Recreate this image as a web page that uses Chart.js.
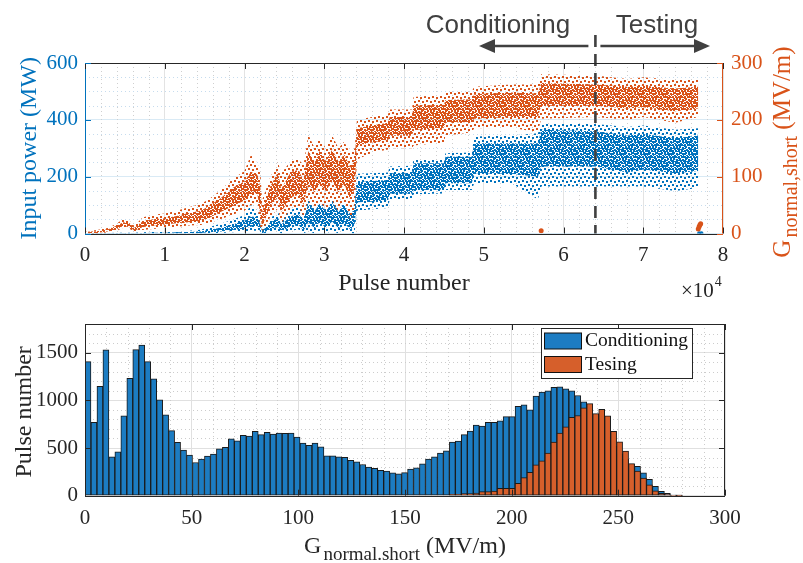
<!DOCTYPE html>
<html>
<head>
<meta charset="utf-8">
<script src="https://cdn.jsdelivr.net/npm/chart.js@4.4.0/dist/chart.umd.min.js"></script>
<style>
  html, body { margin: 0; padding: 0; background: #fff; }
  #wrap { position: relative; width: 803px; height: 563px; }
  #top { position: absolute; left: 0; top: 0; width: 803px; height: 300px; }
  #bottom { position: absolute; left: 0; top: 300px; width: 803px; height: 263px; }
</style>
</head>
<body>
<div id="wrap">
  <canvas id="top" width="803" height="300"></canvas>
  <canvas id="bottom" width="803" height="263"></canvas>
</div>
<script>
// ---- top panel: pulse positions where the two point clouds were read ----
const pulses = [0, 1500, 3000, 4000, 4800, 5600, 6200, 7200, 8500, 10000,
  11500, 13000, 14500, 15500, 17000, 18500, 20000, 20800, 21600, 22000,
  22200, 23200, 24200, 24600, 25800, 26800, 27400, 28000, 28800, 29400,
  30200, 31000, 31800, 32500, 33300, 33800, 34100, 36000, 38000, 38200,
  41000, 41200, 45000, 45200, 48500, 48800, 53500, 56800, 57200, 64000,
  68000, 70000, 74000, 76900];

// G normal,short cloud (MV/m): outer edges and dense core
const gLow      = [0, 0, 2, 5, 10, 8, 3, 6, 8, 10, 12, 14, 15, 18, 25, 33, 40, 50, 52, 10,
  4, 28, 44, 18, 44, 48, 30, 58, 42, 58, 42, 58, 38, 56, 22, 38, 130, 142, 148, 150,
  150, 155, 160, 172, 178, 185, 186, 178, 202, 205, 200, 205, 195, 205];
const gCoreLow  = [1, 1, 4, 8, 13, 11, 5, 11, 14, 16, 18, 20, 22, 27, 38, 48, 58, 68, 72, 30,
  12, 48, 64, 38, 64, 68, 50, 88, 72, 88, 75, 92, 72, 88, 58, 80, 155, 160, 165, 172,
  172, 182, 186, 195, 196, 202, 205, 205, 225, 225, 220, 222, 215, 220];
const gCoreHigh = [3, 4, 8, 14, 20, 18, 10, 21, 25, 27, 31, 36, 40, 48, 62, 80, 92, 108, 104, 80,
  38, 82, 108, 78, 108, 112, 92, 145, 125, 145, 128, 148, 126, 140, 115, 130, 185, 190, 195, 205,
  205, 225, 226, 235, 236, 245, 248, 246, 265, 262, 258, 260, 255, 258];
const gHigh     = [4, 6, 10, 18, 25, 22, 13, 28, 33, 35, 40, 46, 52, 60, 76, 96, 110, 138, 124, 108,
  58, 98, 126, 105, 128, 130, 120, 174, 150, 168, 150, 172, 150, 162, 140, 150, 200, 205, 210, 218,
  218, 240, 244, 250, 250, 258, 262, 262, 280, 278, 272, 275, 270, 270];

// input power cloud (MW)
const pLow      = [0, 0, 0, 0, 0, 0, 0, 0, 0, 0, 0, 0, 0, 1, 2, 4, 8, 10, 10, 0,
  0, 4, 10, 0, 10, 14, 0, 10, 0, 10, 0, 10, 0, 10, 0, 0, 80, 85, 90, 118,
  118, 138, 141, 153, 153, 177, 177, 120, 165, 165, 165, 165, 150, 160];
const pCoreLow  = [0, 0, 0, 0, 0, 0, 0, 0, 1, 1, 1, 2, 2, 4, 7, 12, 18, 24, 28, 5,
  1, 14, 24, 8, 24, 30, 10, 40, 18, 40, 20, 42, 18, 38, 12, 30, 110, 112, 118, 141,
  141, 153, 155, 177, 177, 212, 210, 200, 236, 236, 215, 225, 212, 220];
const pCoreHigh = [1, 1, 1, 1, 2, 2, 1, 2, 3, 3, 4, 5, 7, 12, 20, 32, 45, 60, 58, 30,
  8, 38, 55, 32, 60, 68, 48, 105, 78, 105, 78, 108, 76, 100, 66, 90, 180, 185, 188, 212,
  212, 247, 247, 270, 270, 318, 318, 318, 365, 360, 345, 350, 335, 345];
const pHigh     = [2, 2, 2, 3, 3, 3, 3, 4, 5, 6, 8, 10, 13, 22, 34, 48, 65, 100, 82, 58,
  18, 54, 75, 52, 84, 92, 80, 150, 118, 145, 120, 150, 118, 140, 108, 130, 210, 212, 215, 236,
  238, 259, 262, 282, 285, 341, 345, 353, 388, 385, 375, 380, 365, 370];

// isolated points
const gDotsX = [57200, 76900, 77000, 77100, 77200];
const gDotsY = [5, 8, 12, 15, 17];
const pDotsX = [77000, 77300];
const pDotsY = [1, 1];

const testStart = 64000;
const pulseTicks = [0, 10000, 20000, 30000, 40000, 50000, 60000, 70000, 80000];
const powerTicks = [0, 200, 400, 600];
const gradTicks = [0, 100, 200, 300];

// ---- bottom panel: histogram ----
const binWidth = 2.8;
const conditioningCounts = [1405, 770, 1146, 1529, 408, 460, 836, 1230, 1532, 1578,
  1405, 1226, 1005, 847, 682, 559, 478, 425, 348, 383,
  415, 436, 492, 506, 597, 576, 633, 625, 675, 640,
  664, 647, 657, 653, 657, 615, 552, 527, 552, 513,
  418, 418, 408, 401, 372, 355, 327, 299, 288, 267,
  257, 239, 228, 242, 278, 292, 334, 383, 408, 446,
  471, 562, 573, 640, 678, 741, 731, 770, 770, 784,
  829, 829, 938, 952, 900, 1044, 1086, 1100, 1135, 1142,
  1120, 1100, 1050, 983, 900, 800, 700, 610, 520, 440,
  380, 330, 309, 239, 172, 98, 46, 25, 7, 2];
const testingCounts = [0, 0, 0, 0, 0, 0, 0, 0, 0, 0,
  0, 0, 0, 0, 0, 0, 0, 0, 0, 0,
  0, 0, 0, 0, 0, 0, 0, 0, 0, 0,
  0, 0, 0, 0, 0, 0, 0, 0, 0, 0,
  0, 0, 0, 0, 0, 0, 0, 0, 0, 0,
  0, 0, 0, 0, 0, 0, 0, 0, 0, 0,
  0, 14, 14, 21, 21, 28, 42, 42, 49, 77,
  77, 77, 130, 190, 246, 323, 365, 446, 562, 657,
  722, 822, 841, 920, 965, 860, 906, 836, 676, 566,
  468, 337, 258, 185, 115, 51, 25, 11, 3, 1];
const legendLabels = ['Conditioning', 'Tesing'];
const gradHistTicks = [0, 50, 100, 150, 200, 250, 300];
const countTicks = [0, 500, 1000, 1500];

const BLUE = '#0072BD', ORANGE = '#D95319', AXIS = '#262626', NOTE = '#404040';
const BAR_BLUE = '#1c7cc2', BAR_ORANGE = '#d65f2b';
const SERIF = "'Liberation Serif', 'Times New Roman', serif";
const SANS = "'Liberation Sans', Arial, sans-serif";

const pts = (xs, ys) => xs.map((x, i) => ({x: x, y: ys[i]}));
const fixTicks = vals => (s => { s.ticks = vals.map(v => ({value: v})); });
const plain = v => String(v);

// dotted texture that stands in for the dense cloud of single-pulse markers
function speckle(color, rects, size) {
  const c = document.createElement('canvas');
  c.width = size; c.height = size;
  const g = c.getContext('2d');
  g.fillStyle = color;
  rects.forEach(r => g.fillRect(r[0], r[1], r[2], r[3]));
  return g.createPattern(c, 'repeat');
}
const sparseDots = [[0, 0, 2, 2], [4, 1, 2, 2], [2, 4, 2, 2], [6, 5, 2, 2]];
const denseDots = [[0, 0, 2, 2], [3, 0, 2, 2], [1, 2, 2, 2], [4, 3, 2, 2], [0, 4, 2, 1], [2, 5, 2, 1], [5, 5, 1, 1], [5, 1, 1, 1]];

function band(lo, hi, fillStyle, axis, order) {
  const base = {type: 'line', yAxisID: axis, pointRadius: 0, borderWidth: 1,
    borderColor: 'rgba(0,0,0,0)', tension: 0, order: order};
  return [
    Object.assign({}, base, {data: pts(pulses, lo), fill: false}),
    Object.assign({}, base, {data: pts(pulses, hi), fill: '-1', backgroundColor: fillStyle})
  ];
}

function dottedGrid(ctx, area, xs, ys, xStep, xMajor, yStep, yMajor, colX, colY) {
  ctx.save();
  ctx.lineWidth = 1;
  ctx.setLineDash([1, 3]);
  ctx.strokeStyle = colX;
  for (let v = xs.min + xStep; v < xs.max; v += xStep) {
    if (Math.abs(v / xMajor - Math.round(v / xMajor)) < 1e-6) continue;
    const x = Math.round(xs.getPixelForValue(v)) + 0.5;
    ctx.beginPath(); ctx.moveTo(x, area.top); ctx.lineTo(x, area.bottom); ctx.stroke();
  }
  ctx.strokeStyle = colY;
  for (let v = ys.min + yStep; v < ys.max; v += yStep) {
    if (Math.abs(v / yMajor - Math.round(v / yMajor)) < 1e-6) continue;
    const y = Math.round(ys.getPixelForValue(v)) + 0.5;
    ctx.beginPath(); ctx.moveTo(area.left, y); ctx.lineTo(area.right, y); ctx.stroke();
  }
  ctx.restore();
}

function line(ctx, x1, y1, x2, y2, color, w) {
  ctx.strokeStyle = color; ctx.lineWidth = w || 1;
  ctx.beginPath(); ctx.moveTo(x1, y1); ctx.lineTo(x2, y2); ctx.stroke();
}

function xTicksInward(ctx, area, xs, vals) {
  vals.forEach(v => {
    const x = Math.round(xs.getPixelForValue(v)) + 0.5;
    line(ctx, x, area.bottom, x, area.bottom - 6, AXIS);
    line(ctx, x, area.top, x, area.top + 6, AXIS);
  });
}

function yTicksInward(ctx, area, ys, vals, side, color) {
  vals.forEach(v => {
    const y = Math.round(ys.getPixelForValue(v)) + 0.5;
    if (side === 'left') line(ctx, area.left, y, area.left + 6, y, color);
    else line(ctx, area.right, y, area.right - 6, y, color);
  });
}

// text made of pieces, e.g. G with a subscript, centred on (cx, baseline)
function richText(ctx, parts, cx, base, rotated, color) {
  ctx.save();
  ctx.fillStyle = color;
  ctx.textBaseline = 'alphabetic';
  ctx.textAlign = 'left';
  let total = 0;
  parts.forEach(p => { ctx.font = p.size + 'px ' + SERIF; p.w = ctx.measureText(p.t).width + (p.gap || 0); total += p.w; });
  ctx.translate(cx, base);
  if (rotated) ctx.rotate(-Math.PI / 2);
  let cur = -total / 2;
  parts.forEach(p => { ctx.font = p.size + 'px ' + SERIF; ctx.fillText(p.t, cur, p.dy || 0); cur += p.w; });
  ctx.restore();
}

function arrow(ctx, tail, tip, y) {
  const dir = Math.sign(tip - tail), head = 16, half = 7;
  ctx.save();
  line(ctx, tail, y, tip - dir * head, y, NOTE, 2.7);
  ctx.fillStyle = NOTE;
  ctx.beginPath();
  ctx.moveTo(tip, y); ctx.lineTo(tip - dir * head, y - half); ctx.lineTo(tip - dir * head, y + half);
  ctx.closePath(); ctx.fill();
  ctx.restore();
}

const tickFont = {family: SERIF, size: 21};

// ---------------- top chart ----------------
const topDecor = {
  id: 'topDecor',
  beforeDatasetsDraw(chart) {
    const a = chart.chartArea;
    dottedGrid(chart.ctx, a, chart.scales.x, chart.scales.y, 2000, 10000, 50, 200, '#cfcfcf', '#c6dcee');
  },
  afterDraw(chart) {
    const ctx = chart.ctx, a = chart.chartArea, xs = chart.scales.x;
    ctx.save();
    // dashed separator
    const xd = xs.getPixelForValue(testStart);
    ctx.setLineDash([12, 7]);
    line(ctx, xd, 35, xd, a.bottom, NOTE, 2.6);
    ctx.setLineDash([]);
    // box
    line(ctx, a.left, a.top + 0.5, a.right, a.top + 0.5, AXIS);
    line(ctx, a.left, Math.round(a.bottom) + 0.5, a.right, Math.round(a.bottom) + 0.5, AXIS);
    line(ctx, a.left + 0.5, a.top, a.left + 0.5, a.bottom, BLUE);
    line(ctx, Math.round(a.right) - 0.5, a.top, Math.round(a.right) - 0.5, a.bottom, ORANGE);
    xTicksInward(ctx, a, xs, pulseTicks);
    yTicksInward(ctx, a, chart.scales.y, powerTicks, 'left', BLUE);
    yTicksInward(ctx, a, chart.scales.y2, gradTicks, 'right', ORANGE);
    // annotations
    arrow(ctx, xd - 7, 479, 46);
    arrow(ctx, xd + 5, 710, 46);
    ctx.fillStyle = NOTE;
    ctx.font = '26px ' + SANS;
    ctx.textAlign = 'center';
    ctx.textBaseline = 'alphabetic';
    ctx.fillText('Conditioning', 498, 33);
    ctx.fillText('Testing', 657, 33);
    // axis titles
    ctx.fillStyle = AXIS;
    ctx.font = '24px ' + SERIF;
    ctx.fillText('Pulse number', (a.left + a.right) / 2, 290);
    ctx.textAlign = 'left';
    ctx.font = '21px ' + SERIF;
    ctx.fillText('\u00d710', 681, 297);
    const w = ctx.measureText('\u00d710').width;
    ctx.font = '14px ' + SERIF;
    ctx.fillText('4', 681 + w + 1, 286);
    ctx.restore();
    richText(ctx, [{t: 'Input power (MW)', size: 24}], 36, (a.top + a.bottom) / 2, true, BLUE);
    richText(ctx, [{t: 'G', size: 25, gap: 2}, {t: 'normal,short', size: 20, dy: 7}, {t: ' (MV/m)', size: 25}],
      790, 152, true, ORANGE);
  }
};

const topDatasets = [].concat(
  band(pLow, pHigh, speckle(BLUE, sparseDots, 8), 'y', 8),
  band(pCoreLow, pCoreHigh, speckle(BLUE, denseDots, 6), 'y', 7),
  band(gLow, gHigh, speckle(ORANGE, sparseDots, 8), 'y2', 6),
  band(gCoreLow, gCoreHigh, speckle(ORANGE, denseDots, 6), 'y2', 5),
  [
    {type: 'line', showLine: false, data: pts(pDotsX, pDotsY), yAxisID: 'y', pointRadius: 2,
      pointBackgroundColor: BLUE, pointBorderWidth: 0, order: 2},
    {type: 'line', showLine: false, data: pts(gDotsX, gDotsY), yAxisID: 'y2', pointRadius: 2.5,
      pointBackgroundColor: ORANGE, pointBorderWidth: 0, order: 1}
  ]
);

new Chart(document.getElementById('top'), {
  type: 'line',
  data: {datasets: topDatasets},
  options: {
    responsive: false, animation: false, events: [],
    layout: {padding: {top: 63, left: 0, right: 0, bottom: 0}},
    plugins: {legend: {display: false}, tooltip: {enabled: false}},
    scales: {
      x: {
        type: 'linear', min: 0, max: 80000,
        afterBuildTicks: fixTicks(pulseTicks),
        ticks: {autoSkip: false, maxRotation: 0, padding: 9, color: AXIS, font: tickFont,
          callback: v => String(v / 10000)},
        grid: {color: '#e3e3e3', drawTicks: false},
        border: {display: false},
        afterFit: s => { s.height = 66.5; }
      },
      y: {
        position: 'left', min: 0, max: 600,
        afterBuildTicks: fixTicks(powerTicks),
        ticks: {autoSkip: false, padding: 7, color: BLUE, font: tickFont, callback: plain},
        grid: {color: '#d9eaf5', drawTicks: false},
        border: {display: false},
        afterFit: s => { s.width = 85; }
      },
      y2: {
        position: 'right', min: 0, max: 300,
        afterBuildTicks: fixTicks(gradTicks),
        ticks: {autoSkip: false, padding: 8, color: ORANGE, font: tickFont, callback: plain},
        grid: {drawOnChartArea: false, drawTicks: false},
        border: {display: false},
        afterFit: s => { s.width = 80; }
      }
    }
  },
  plugins: [topDecor]
});

// ---------------- bottom chart ----------------
const binCenters = conditioningCounts.map((_, i) => binWidth * (i + 0.5));

const bottomDecor = {
  id: 'bottomDecor',
  beforeDatasetsDraw(chart) {
    dottedGrid(chart.ctx, chart.chartArea, chart.scales.x, chart.scales.y, 10, 50, 100, 500, '#cccccc', '#cccccc');
  },
  afterDraw(chart) {
    const ctx = chart.ctx, a = chart.chartArea;
    ctx.save();
    const t = Math.round(a.top) + 0.5, b = Math.round(a.bottom) + 0.5;
    line(ctx, a.left, t, a.right, t, AXIS);
    line(ctx, a.left, b, a.right, b, AXIS);
    line(ctx, a.left + 0.5, a.top, a.left + 0.5, a.bottom, AXIS);
    line(ctx, Math.round(a.right) - 0.5, a.top, Math.round(a.right) - 0.5, a.bottom, AXIS);
    xTicksInward(ctx, a, chart.scales.x, gradHistTicks);
    yTicksInward(ctx, a, chart.scales.y, countTicks, 'left', AXIS);
    yTicksInward(ctx, a, chart.scales.y, countTicks, 'right', AXIS);
    // legend
    const lx = 541.5, ly = 28.5, lw = 151, lh = 50;
    ctx.fillStyle = '#ffffff';
    ctx.fillRect(lx, ly, lw, lh);
    ctx.strokeStyle = AXIS; ctx.lineWidth = 1;
    ctx.strokeRect(lx, ly, lw, lh);
    const sw = [BAR_BLUE, BAR_ORANGE];
    ctx.font = '19.5px ' + SERIF;
    ctx.textBaseline = 'middle';
    ctx.textAlign = 'left';
    legendLabels.forEach((lab, i) => {
      const y = 33 + i * 23.5;
      ctx.fillStyle = sw[i];
      ctx.fillRect(544.5, y, 37, 16);
      ctx.strokeStyle = '#111'; ctx.lineWidth = 1;
      ctx.strokeRect(544.5, y, 37, 16);
      ctx.fillStyle = '#111';
      ctx.fillText(lab, 585, y + 8);
    });
    ctx.restore();
    richText(ctx, [{t: 'Pulse number', size: 24}], 31, (a.top + a.bottom) / 2 + 2, true, AXIS);
    richText(ctx, [{t: 'G', size: 24, gap: 2}, {t: 'normal.short', size: 19, dy: 7}, {t: ' (MV/m)', size: 24}],
      (a.left + a.right) / 2, 253, false, AXIS);
  }
};

new Chart(document.getElementById('bottom'), {
  type: 'bar',
  data: {
    datasets: [
      {label: legendLabels[1], data: pts(binCenters, testingCounts), backgroundColor: BAR_ORANGE,
        borderColor: '#1a1a1a', borderWidth: 1, borderSkipped: false, order: 1},
      {label: legendLabels[0], data: pts(binCenters, conditioningCounts), backgroundColor: BAR_BLUE,
        borderColor: '#1a1a1a', borderWidth: 1, borderSkipped: false, order: 2}
    ]
  },
  options: {
    responsive: false, animation: false, events: [],
    grouped: false,
    barPercentage: 1, categoryPercentage: 1,
    layout: {padding: {top: 24, left: 0, right: 78, bottom: 0}},
    plugins: {legend: {display: false}, tooltip: {enabled: false}},
    scales: {
      x: {
        type: 'linear', min: 0, max: 300, offset: false,
        afterBuildTicks: fixTicks(gradHistTicks),
        ticks: {autoSkip: false, maxRotation: 0, padding: 10, color: AXIS, font: tickFont, callback: plain},
        grid: {color: '#e0e0e0', drawTicks: false, offset: false},
        border: {display: false},
        afterFit: s => { s.height = 67.3; }
      },
      y: {
        type: 'linear', min: 0, max: 1800,
        afterBuildTicks: fixTicks(countTicks),
        ticks: {autoSkip: false, padding: 7, color: AXIS, font: tickFont, callback: plain},
        grid: {color: '#e0e0e0', drawTicks: false},
        border: {display: false},
        afterFit: s => { s.width = 85; }
      }
    }
  },
  plugins: [bottomDecor]
});
</script>
</body>
</html>
